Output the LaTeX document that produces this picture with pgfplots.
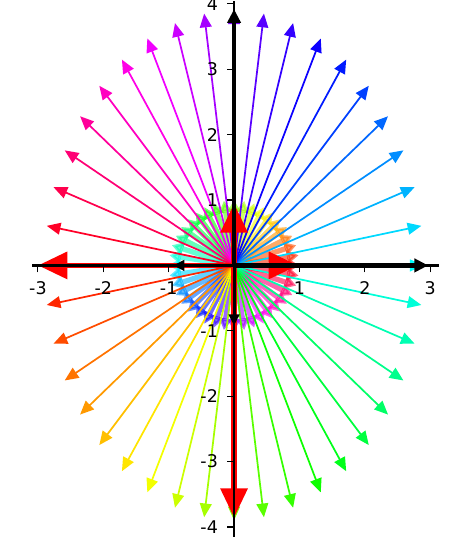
\documentclass[border=0pt]{standalone}
\usepackage{pgfplots}
\pgfplotsset{compat=1.18}
\usepackage{pgfplotstable}
\usetikzlibrary{arrows.meta}
\usepackage{fontspec}
\setmainfont{DejaVu Sans}

\pgfplotstableread{
u v h
3.000 0.000 180
2.963 0.626 189
2.853 1.236 198
2.673 1.816 207
2.427 2.351 216
2.121 2.828 225
1.763 3.236 234
1.362 3.564 243
0.927 3.804 252
0.469 3.951 261
0.000 4.000 270
-0.469 3.951 279
-0.927 3.804 288
-1.362 3.564 297
-1.763 3.236 306
-2.121 2.828 315
-2.427 2.351 324
-2.673 1.816 333
-2.853 1.236 342
-2.963 0.626 351
-3.000 0.000 0
-2.963 -0.626 9
-2.853 -1.236 18
-2.673 -1.816 27
-2.427 -2.351 36
-2.121 -2.828 45
-1.763 -3.236 54
-1.362 -3.564 63
-0.927 -3.804 72
-0.469 -3.951 81
0.000 -4.000 90
0.469 -3.951 99
0.927 -3.804 108
1.362 -3.564 117
1.763 -3.236 126
2.121 -2.828 135
2.427 -2.351 144
2.673 -1.816 153
2.853 -1.236 162
2.963 -0.626 171
}\bigarrows

\pgfplotstableread{
u v h
1.000 0.000 0
0.988 0.156 9
0.951 0.309 18
0.891 0.454 27
0.809 0.588 36
0.707 0.707 45
0.588 0.809 54
0.454 0.891 63
0.309 0.951 72
0.156 0.988 81
0.000 1.000 90
-0.156 0.988 99
-0.309 0.951 108
-0.454 0.891 117
-0.588 0.809 126
-0.707 0.707 135
-0.809 0.588 144
-0.891 0.454 153
-0.951 0.309 162
-0.988 0.156 171
-1.000 0.000 180
-0.988 -0.156 189
-0.951 -0.309 198
-0.891 -0.454 207
-0.809 -0.588 216
-0.707 -0.707 225
-0.588 -0.809 234
-0.454 -0.891 243
-0.309 -0.951 252
-0.156 -0.988 261
0.000 -1.000 270
0.156 -0.988 279
0.309 -0.951 288
0.454 -0.891 297
0.588 -0.809 306
0.707 -0.707 315
0.809 -0.588 324
0.891 -0.454 333
0.951 -0.309 342
0.988 -0.156 351
}\smallarrows

\begin{document}
\begin{tikzpicture}
\begin{axis}[
  x=1cm, y=1cm,
  xmin=-3.09, xmax=3.13, ymin=-4.15, ymax=4.05,
  axis lines=middle,
  axis line style={line width=1pt, -},
  axis on top,
  clip=false,
  xtick={-3,-2,-1,1,2,3},
  ytick={-4,-3,-2,-1,1,2,3,4},
  minor tick num=4,
  tick align=outside,
  major tick length=3pt, minor tick length=1.8pt,
  tick style={black, line width=0.5pt},
  ticklabel style={font=\fontsize{7.6}{9}\selectfont},
  xticklabel style={yshift=-0.5pt},
  yticklabel style={xshift=-0.5pt},
  /pgf/number format/assume math mode=true,
  colormap={hue}{rgb255=(255,0,0) rgb255=(255,255,0) rgb255=(0,255,0) rgb255=(0,255,255) rgb255=(0,0,255) rgb255=(255,0,255) rgb255=(255,0,0)},
  point meta min=0, point meta max=360,
]
% small semi-transparent unit arrows
\addplot[quiver={u=\thisrow{u}, v=\thisrow{v}, colored=mapped color,
   every arrow/.append style={line width=2.3pt, opacity=0.6, -{Triangle[length=0.18cm,width=0.2cm]}}},
   point meta=\thisrow{h}] table[x expr=0, y expr=0] {\smallarrows};
% thin ellipse arrows
\addplot[quiver={u=\thisrow{u}, v=\thisrow{v}, colored=mapped color,
   every arrow/.append style={line width=0.75pt, shorten >=0.1cm, -{Triangle[length=0.21cm,width=0.18cm]}}},
   point meta=\thisrow{h}] table[x expr=0, y expr=0] {\bigarrows};
% thick red arrows
\addplot[quiver={u=\thisrow{u}, v=\thisrow{v}}, red, line width=2.5pt,
   -{Triangle[length=0.45cm,width=0.4cm]}] table {
x y u v
0 0 0.98 0
0 0 0 0.95
0 0 -3.0 0
0 0 0 -3.86
};
% black long arrows
\addplot[quiver={u=\thisrow{u}, v=\thisrow{v}}, black, line width=2pt,
   -{Triangle[length=0.21cm,width=0.2cm]}] table {
x y u v
0 0 2.97 0
0 0 0 3.92
};
% black short arrows
\addplot[quiver={u=\thisrow{u}, v=\thisrow{v}}, black, line width=1.3pt,
   -{Triangle[length=0.17cm,width=0.16cm]}] table {
x y u v
0 0 -0.93 0
0 0 0 -0.92
};
\coordinate (bl) at (axis cs:-3.58,-4.46);
\coordinate (tr) at (axis cs:3.59,4.06);
\end{axis}
\pgfresetboundingbox
\useasboundingbox (bl) rectangle (tr);
\end{tikzpicture}
\end{document}
